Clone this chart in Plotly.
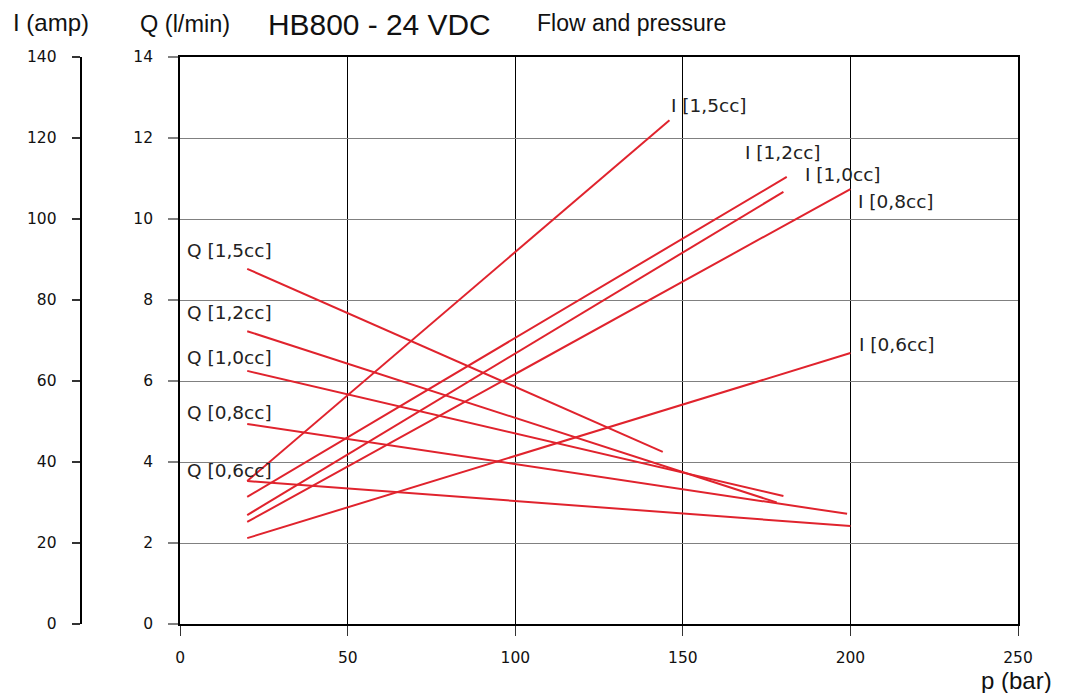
import plotly.graph_objects as go

# ---- data ----
series_names = ["1,5cc", "1,2cc", "1,0cc", "0,8cc", "0,6cc"]
p_start = [20, 20, 20, 20, 20]
# Flow Q (l/min)
q_p_end = [144, 178, 180, 199, 200]
q_start = [8.77, 7.23, 6.25, 4.94, 3.53]
q_end = [4.25, 3.0, 3.16, 2.72, 2.42]
# Current I (amp)
i_p_end = [146, 181, 180, 200, 200]
i_start = [35.3, 31.4, 26.9, 25.2, 21.2]
i_end = [124.4, 110.4, 106.7, 107.4, 66.9]

# label positions (data coordinates, Q scale)
q_label_pos = [(1.4, 9.23), (1.4, 7.70), (1.4, 6.59), (1.4, 5.23), (1.4, 3.80)]
i_label_pos = [(146.0, 12.81), (168.0, 11.63), (185.9, 11.11), (201.7, 10.42), (202.0, 6.89)]

x_ticks = [0, 50, 100, 150, 200, 250]
q_ticks = [0, 2, 4, 6, 8, 10, 12, 14]
i_ticks = [0, 20, 40, 60, 80, 100, 120, 140]

RED = "#e0232d"
OFF = 8  # page body margin
W, H = 1069 - OFF, 693 - OFF
# page-pixel geometry of the plot area
PL, PR, PT, PB = 179, 1018, 57, 624
ML = 4
MR = W - (PR - OFF)
MT = PT - OFF
MB = H - (PB - OFF)
PW = W - ML - MR
PH = H - MT - MB

def px(xp):
    return (xp - OFF - ML) / PW

def py(yp):
    return (PB - yp) / PH

fig = go.Figure()
for k, name in enumerate(series_names):
    fig.add_trace(go.Scatter(x=[p_start[k], q_p_end[k]], y=[q_start[k], q_end[k]],
                             mode="lines", line=dict(color=RED, width=2),
                             name="Q [" + name + "]", showlegend=False, yaxis="y"))
for k, name in enumerate(series_names):
    fig.add_trace(go.Scatter(x=[p_start[k], i_p_end[k]], y=[i_start[k], i_end[k]],
                             mode="lines", line=dict(color=RED, width=2),
                             name="I [" + name + "]", showlegend=False, yaxis="y2"))

ann = []
lab_font = dict(family="DejaVu Sans, sans-serif", size=18.5, color="#222")
for k, name in enumerate(series_names):
    x, y = q_label_pos[k]
    ann.append(dict(x=x, y=y, xref="x", yref="y", text="Q [" + name + "]", showarrow=False,
                    xanchor="left", yanchor="middle", font=lab_font))
    x, y = i_label_pos[k]
    ann.append(dict(x=x, y=y, xref="x", yref="y", text="I [" + name + "]", showarrow=False,
                    xanchor="left", yanchor="middle", font=lab_font))

tfont = "Liberation Sans, Arial, sans-serif"
ann += [
    dict(x=px(6), y=py(23), xref="paper", yref="paper", text="I (amp)", showarrow=False,
         xanchor="left", yanchor="middle", font=dict(family=tfont, size=24, color="#111")),
    dict(x=px(134), y=py(24), xref="paper", yref="paper", text="Q (l/min)", showarrow=False,
         xanchor="left", yanchor="middle", font=dict(family=tfont, size=23.5, color="#111")),
    dict(x=px(262), y=py(24), xref="paper", yref="paper", text="HB800 - 24 VDC", showarrow=False,
         xanchor="left", yanchor="middle", font=dict(family=tfont, size=29.9, color="#111")),
    dict(x=px(533), y=py(23), xref="paper", yref="paper", text="Flow and pressure", showarrow=False,
         xanchor="left", yanchor="middle", font=dict(family=tfont, size=23, color="#111")),
    dict(x=px(1054), y=py(680), xref="paper", yref="paper", text="p (bar)", showarrow=False,
         xanchor="right", yanchor="middle", font=dict(family=tfont, size=24, color="#111")),
]

tick_font = dict(family="DejaVu Sans, sans-serif", size=15.5, color="#111")
fig.update_layout(
    width=W, height=H,
    margin=dict(l=ML, r=MR, t=MT, b=MB),
    paper_bgcolor="white", plot_bgcolor="white",
    annotations=ann,
    xaxis=dict(domain=[px(PL - 3), 1], range=[0, 250], tickvals=x_ticks,
               showgrid=True, gridcolor="#000", gridwidth=1,
               showline=True, linecolor="#000", linewidth=2, mirror=True,
               ticks="outside", ticklen=10, tickcolor="#333", tickwidth=1,
               ticklabelstandoff=8,
               tickfont=tick_font, zeroline=False, fixedrange=True),
    yaxis=dict(range=[0, 14], tickvals=q_ticks,
               showgrid=True, gridcolor="#808080", gridwidth=1,
               showline=True, linecolor="#000", linewidth=2, mirror=True,
               ticks="outside", ticklen=10, tickcolor="#808080", tickwidth=1.5,
               ticklabelstandoff=12,
               tickfont=tick_font, zeroline=False, fixedrange=True),
    yaxis2=dict(range=[0, 140], tickvals=i_ticks, overlaying="y", anchor="free",
                position=px(76), side="left",
                showgrid=False, showline=True, linecolor="#000", linewidth=2,
                ticks="outside", ticklen=8, tickcolor="#333", tickwidth=1.5,
                ticklabelstandoff=12,
                tickfont=tick_font, zeroline=False, fixedrange=True),
)

fig.write_html("out.html")
